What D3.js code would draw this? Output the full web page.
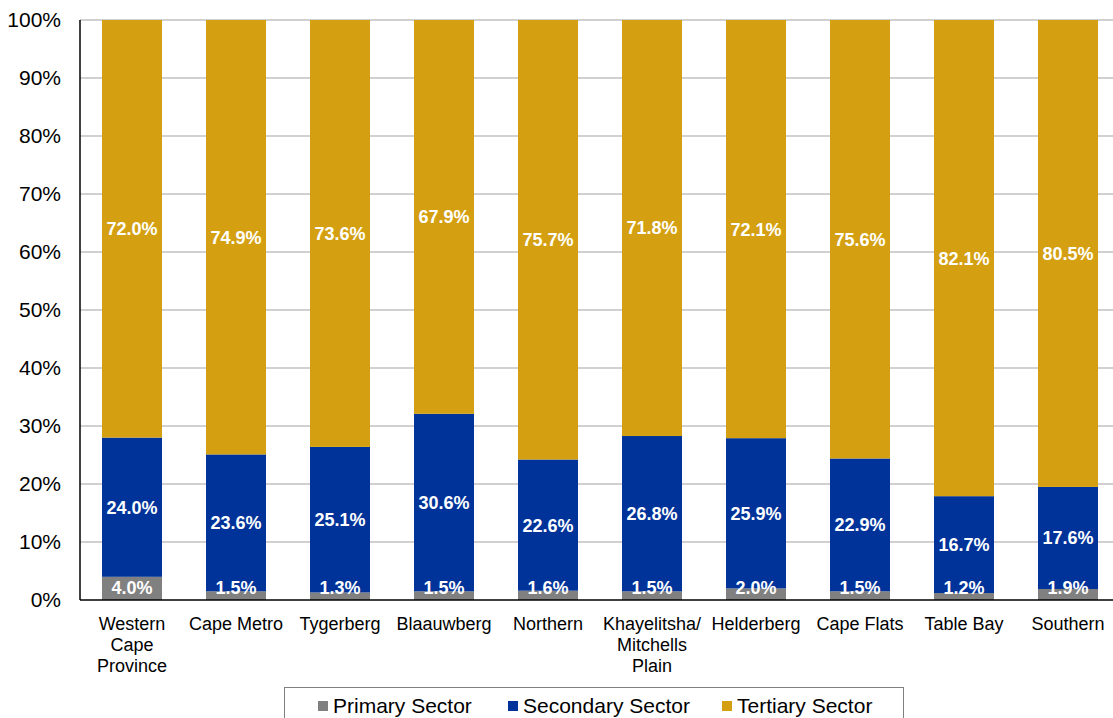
<!DOCTYPE html>
<html>
<head>
<meta charset="utf-8">
<script src="https://cdn.jsdelivr.net/npm/d3@7/dist/d3.min.js"></script>
<style>
  html, body { margin: 0; padding: 0; background: #fff; }
  svg { display: block; font-family: "Liberation Sans", Arial, sans-serif; }
</style>
</head>
<body>
<svg id="chart" width="1113" height="718"></svg>
<script>
// Regions of the Western Cape
const categories = [
  ["Western", "Cape", "Province"],
  ["Cape Metro"],
  ["Tygerberg"],
  ["Blaauwberg"],
  ["Northern"],
  ["Khayelitsha/", "Mitchells", "Plain"],
  ["Helderberg"],
  ["Cape Flats"],
  ["Table Bay"],
  ["Southern"]
];

// Sector shares (%)
const primary   = [4.0, 1.5, 1.3, 1.5, 1.6, 1.5, 2.0, 1.5, 1.2, 1.9];
const secondary = [24.0, 23.6, 25.1, 30.6, 22.6, 26.8, 25.9, 22.9, 16.7, 17.6];
const tertiary  = [72.0, 74.9, 73.6, 67.9, 75.7, 71.8, 72.1, 75.6, 82.1, 80.5];

const seriesNames = ["Primary Sector", "Secondary Sector", "Tertiary Sector"];
const yTicks = [0, 10, 20, 30, 40, 50, 60, 70, 80, 90, 100];

const colors = ["#808080", "#003399", "#D4A012"];
const seriesValues = [primary, secondary, tertiary];

const svg = d3.select("#chart");
const plotLeft = 80, plotRight = 1120, plotTop = 20, plotBottom = 600;

const x = d3.scaleBand()
  .domain(d3.range(categories.length))
  .range([plotLeft, plotRight])
  .paddingInner(44 / 104)
  .paddingOuter(22 / 104);

const y = d3.scaleLinear().domain([0, 100]).range([plotBottom, plotTop]);

// gridlines
svg.append("g")
  .selectAll("line")
  .data(yTicks.filter(t => t > 0))
  .join("line")
  .attr("x1", plotLeft).attr("x2", plotRight)
  .attr("y1", d => y(d)).attr("y2", d => y(d))
  .attr("stroke", "#d0d0d0")
  .attr("stroke-width", 2);

// build stacked (100%) data
const rows = categories.map((c, i) => {
  const vals = seriesValues.map(s => s[i]);
  const total = d3.sum(vals);
  const o = { i };
  seriesNames.forEach((n, k) => { o[n] = vals[k] / total * 100; o["raw" + k] = vals[k]; });
  return o;
});
const stacked = d3.stack().keys(seriesNames)(rows);

const layers = svg.append("g").selectAll("g")
  .data(stacked)
  .join("g")
  .attr("fill", (d, k) => colors[k]);

layers.selectAll("rect")
  .data(d => d)
  .join("rect")
  .attr("x", d => x(d.data.i))
  .attr("width", x.bandwidth())
  .attr("y", d => y(d[1]))
  .attr("height", d => y(d[0]) - y(d[1]));

// value labels
const labels = svg.append("g")
  .attr("font-weight", "bold")
  .attr("font-size", 18)
  .attr("fill", "#fff")
  .attr("text-anchor", "middle");

stacked.forEach((layer, k) => {
  labels.selectAll(null)
    .data(layer)
    .join("text")
    .attr("x", d => x(d.data.i) + x.bandwidth() / 2)
    .attr("y", d => Math.min((y(d[0]) + y(d[1])) / 2, 587.5))
    .attr("dy", "0.36em")
    .text(d => d.data["raw" + k].toFixed(1) + "%");
});

// axis lines
svg.append("line")
  .attr("x1", plotLeft).attr("x2", plotLeft)
  .attr("y1", plotTop).attr("y2", plotBottom)
  .attr("stroke", "#000").attr("stroke-width", 1.5);
svg.append("line")
  .attr("x1", plotLeft).attr("x2", plotRight)
  .attr("y1", plotBottom).attr("y2", plotBottom)
  .attr("stroke", "#000").attr("stroke-width", 1.5);

// y tick labels
svg.append("g")
  .attr("font-size", 21)
  .attr("fill", "#000")
  .attr("text-anchor", "end")
  .selectAll("text")
  .data(yTicks)
  .join("text")
  .attr("x", 61)
  .attr("y", d => y(d))
  .attr("dy", "0.35em")
  .text(d => d + "%");

// category labels
const cat = svg.append("g")
  .attr("font-size", 18)
  .attr("fill", "#000")
  .attr("text-anchor", "middle")
  .selectAll("text")
  .data(categories)
  .join("text")
  .attr("x", (d, i) => x(i) + x.bandwidth() / 2)
  .attr("y", 630);
cat.selectAll("tspan")
  .data(d => d)
  .join("tspan")
  .attr("x", function () { return d3.select(this.parentNode).attr("x"); })
  .attr("dy", (d, j) => j === 0 ? 0 : 21)
  .text(d => d);

// legend
const legend = svg.append("g");
legend.append("rect")
  .attr("x", 284.5).attr("y", 687.5)
  .attr("width", 619).attr("height", 40)
  .attr("fill", "#fff")
  .attr("stroke", "#808080").attr("stroke-width", 1);

const legendX = [318, 508, 722];
const items = legend.selectAll("g.item")
  .data(seriesNames)
  .join("g")
  .attr("transform", (d, k) => `translate(${legendX[k]},706)`);
items.append("rect")
  .attr("x", 0).attr("y", -5)
  .attr("width", 10).attr("height", 10)
  .attr("fill", (d, k) => colors[k]);
items.append("text")
  .attr("x", 15).attr("y", 0)
  .attr("dy", "0.35em")
  .attr("font-size", 21)
  .attr("fill", "#000")
  .text(d => d);
</script>
</body>
</html>
